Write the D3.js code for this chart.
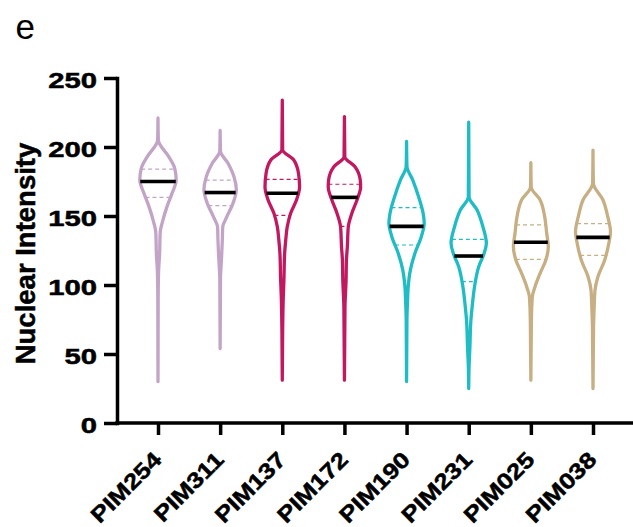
<!DOCTYPE html>
<html>
<head>
<meta charset="utf-8">
<script src="https://cdn.jsdelivr.net/npm/d3@7"></script>
<style>
  body { margin: 0; background: #fff; }
  svg { display: block; }
  .axis path, .axis line { stroke: #000; stroke-width: 3.5; }
  .lbl { font-family: "Liberation Sans", Arial, sans-serif; font-weight: bold; fill: #000; stroke: #000; stroke-width: 0.5; }
</style>
</head>
<body>
<svg></svg>
<script>
var width = 633,
	height = 527;

// groups, left to right
const categories = ["PIM254", "PIM311", "PIM137", "PIM172", "PIM190", "PIM231", "PIM025", "PIM038"];
const colors = ["#c3a4c6", "#c3a4c6", "#c2185f", "#c2185f", "#1fbcc5", "#1fbcc5", "#c8ae83", "#c8ae83"];
const medians = [175, 167, 166.5, 163.5, 142.5, 121, 131, 134.5];
const q1 = [163.5, 157.5, 150.5, 142.5, 129, 102.5, 118.5, 121.5];
const q3 = [184, 176, 176.5, 173, 156, 133, 143.5, 144.5];
const yTicks = [0, 50, 100, 150, 200, 250];

// violin outlines: [intensity, relative density]
const densPIM254 = [[221, 0], [205, 0.02], [193, 0.59], [184.5, 0.92], [176, 1], [166, 0.76], [157, 0.5], [147, 0.27], [138, 0.12], [123, 0.09], [109, 0.03], [90, 0.01], [30, 0]];
const densPIM311 = [[212, 0], [197, 0.02], [188, 0.44], [178.5, 0.76], [169, 0.89], [159, 0.7], [149.5, 0.37], [142, 0.14], [132.6, 0.12], [118, 0.07], [105, 0.02], [54, 0]];
const densPIM137 = [[234, 0], [198, 0.02], [190.6, 0.63], [181, 0.89], [171, 0.95], [161.6, 0.78], [152, 0.46], [142, 0.27], [132.6, 0.19], [123, 0.13], [103.6, 0.09], [91.5, 0.055], [67, 0.02], [31, 0]];
const densPIM172 = [[222, 0], [193, 0.02], [185.7, 0.58], [176, 0.87], [171, 0.89], [161.6, 0.69], [152, 0.41], [142, 0.21], [127.7, 0.16], [118, 0.11], [103.6, 0.09], [84, 0.03], [31, 0]];
const densPIM190 = [[204, 0], [186, 0.02], [176, 0.34], [164, 0.66], [152, 0.91], [144.7, 0.97], [135, 0.81], [123, 0.46], [111, 0.21], [98.8, 0.09], [89, 0.055], [74.6, 0.02], [30, 0]];
const densPIM231 = [[218, 0], [164, 0.02], [154.3, 0.46], [142.2, 0.78], [130.2, 0.97], [123, 0.85], [113.3, 0.55], [98.8, 0.32], [84.3, 0.19], [74.6, 0.12], [55.3, 0.066], [40.8, 0.02], [25, 0]];
const densPIM025 = [[188.6, 0], [171, 0.02], [161.6, 0.51], [149.5, 0.76], [137.5, 0.87], [127.8, 0.96], [118, 0.82], [108.5, 0.51], [98.8, 0.23], [91.5, 0.08], [74.6, 0.03], [31, 0]];
const densPIM038 = [[197.8, 0], [173.7, 0.02], [161.6, 0.55], [149.5, 0.81], [138.6, 0.96], [130.2, 0.87], [118, 0.64], [106, 0.27], [96.4, 0.11], [84.3, 0.066], [69.8, 0.03], [25, 0]];
const densities = [densPIM254, densPIM311, densPIM137, densPIM172, densPIM190, densPIM231, densPIM025, densPIM038];

const margin = { left: 117, right: 633, top: 78, bottom: 423 };
const stretch = 1.33; // the figure's heavy face is wider than Arial Bold

var svg = d3.select("svg").attr("width", width).attr("height", height);

var y = d3.scaleLinear().domain([0, 250]).range([margin.bottom, margin.top]);
var x = d3.scalePoint().domain(categories).range([158, 593]);
var w = d3.scaleLinear().domain([0, 1]).range([0, 18.2]);

var area = d3
	.area()
	.curve(d3.curveMonotoneY)
	.y((d) => y(d[0]))
	.x0((d) => -w(d[1]))
	.x1((d) => w(d[1]));

// half width of a violin at a given intensity
const halfAt = (dens, v) => w(d3.scaleLinear().domain(dens.map((d) => d[0])).range(dens.map((d) => d[1]))(v));

// panel letter
svg.append("text").attr("x", 15.5).attr("y", 39)
	.style("font-family", "'Liberation Sans', Arial, sans-serif").style("font-size", "35px")
	.text("e");

// y axis
var gy = svg.append("g").attr("class", "axis").attr("transform", `translate(${margin.left},0)`)
	.call(d3.axisLeft(y).tickValues(yTicks).tickSize(13).tickPadding(7).tickSizeOuter(0));
gy.select(".domain").attr("stroke-linecap", "square");
gy.selectAll(".tick text")
	.attr("class", "lbl")
	.attr("x", 0)
	.attr("dy", "0.43em")
	.attr("transform", `translate(-20,0) scale(${stretch},1)`)
	.style("font-size", "22px");

svg.append("text")
	.attr("class", "lbl")
	.attr("transform", `translate(35,${(margin.top + margin.bottom) / 2 + 3}) rotate(-90)`)
	.attr("text-anchor", "middle")
	.style("font-size", "27.5px")
	.text("Nuclear Intensity");

// x axis
var gx = svg.append("g").attr("class", "axis").attr("transform", `translate(0,${margin.bottom})`)
	.call(d3.axisBottom(x).tickSize(12).tickSizeOuter(0).tickFormat(""));
gx.select(".domain").attr("d", `M${margin.left},0H${margin.right}`).attr("stroke-linecap", "square");

svg.append("g").selectAll("text").data(categories).enter().append("text")
	.attr("class", "lbl")
	.attr("transform", (d) => `translate(${x(d) + 5},${margin.bottom + 38}) rotate(-45) scale(1.18,1)`)
	.attr("text-anchor", "end")
	.style("font-size", "22px")
	.text((d) => d);

// violins
var violins = svg.append("g").selectAll("g").data(categories).enter().append("g")
	.attr("transform", (d) => `translate(${x(d)},0)`);

violins.append("path")
	.attr("d", (d, i) => area(densities[i]))
	.attr("fill", "#fff")
	.attr("stroke", (d, i) => colors[i])
	.attr("stroke-width", 3.3)
	.attr("stroke-linejoin", "round");

[q1, q3].forEach((q) =>
	violins.append("line")
		.attr("x1", (d, i) => -halfAt(densities[i], q[i]))
		.attr("x2", (d, i) => halfAt(densities[i], q[i]))
		.attr("y1", (d, i) => y(q[i]))
		.attr("y2", (d, i) => y(q[i]))
		.attr("stroke", (d, i) => colors[i])
		.attr("stroke-width", 1.2)
		.attr("stroke-dasharray", "4,3")
);

violins.append("line")
	.attr("x1", (d, i) => -halfAt(densities[i], medians[i]))
	.attr("x2", (d, i) => halfAt(densities[i], medians[i]))
	.attr("y1", (d, i) => y(medians[i]))
	.attr("y2", (d, i) => y(medians[i]))
	.attr("stroke", "#000")
	.attr("stroke-width", 3.6);
</script>
</body>
</html>
